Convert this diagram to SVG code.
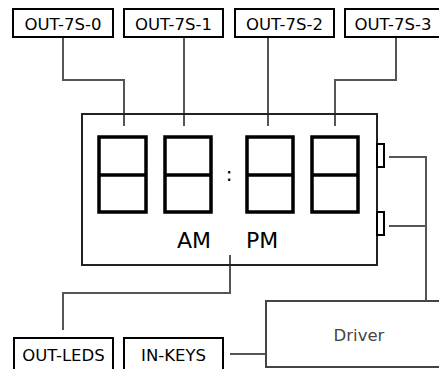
<svg xmlns="http://www.w3.org/2000/svg" width="439" height="369" viewBox="0 0 439 369">
<style>
.lbl{fill:#fff;stroke:#000;stroke-width:2}
.t{font-family:"DejaVu Sans",sans-serif;font-size:16.5px;fill:#000;text-anchor:middle}
.con{fill:none;stroke:#555;stroke-width:2}
.seg{fill:none;stroke:#000;stroke-width:3.5}
</style>
<rect width="439" height="369" fill="#fff"/>
<g id="connectors">
<path class="con" d="M63 38V80H124V126"/>
<path class="con" d="M184 38V126"/>
<path class="con" d="M268 38V126"/>
<path class="con" d="M396 38V80H335V126"/>
<path class="con" d="M230 255V293H63V330"/>
<path class="con" d="M389 157H426V301"/>
<path class="con" d="M389 226H426"/>
<path class="con" d="M230 354H266"/>
</g>
<g id="out7s0"><rect class="lbl" x="13" y="9" width="100" height="28"/><text class="t" x="63" y="30">OUT-7S-0</text></g>
<g id="out7s1"><rect class="lbl" x="124" y="9" width="99" height="28"/><text class="t" x="173.5" y="30">OUT-7S-1</text></g>
<g id="out7s2"><rect class="lbl" x="235" y="9" width="99" height="28"/><text class="t" x="284.5" y="30">OUT-7S-2</text></g>
<g id="out7s3"><rect class="lbl" x="345" y="9" width="99" height="28"/><text class="t" x="393" y="30">OUT-7S-3</text></g>
<g id="display">
<rect x="82" y="114" width="295" height="151" fill="none" stroke="#222" stroke-width="2"/>
<path class="seg" d="M99 137H146V212H99ZM99 175H146"/>
<path class="seg" d="M165 137H211V212H165ZM165 175H211"/>
<path class="seg" d="M247 137H293V212H247ZM247 175H293"/>
<path class="seg" d="M312 137H358V212H312ZM312 175H358"/>
<text x="229" y="181" font-family="DejaVu Sans,sans-serif" font-size="20" text-anchor="middle">:</text>
<text x="194" y="248" font-family="DejaVu Sans,sans-serif" font-size="22" text-anchor="middle">AM</text>
<text x="262" y="248" font-family="DejaVu Sans,sans-serif" font-size="22" text-anchor="middle">PM</text>
<rect x="377" y="144" width="7" height="23" fill="#fff" stroke="#000" stroke-width="2"/>
<rect x="377" y="212" width="7" height="23" fill="#fff" stroke="#000" stroke-width="2"/>
</g>
<g id="driver"><rect x="266" y="301" width="190" height="66" fill="#fff" stroke="#444" stroke-width="2"/><text x="359" y="341" font-family="DejaVu Sans,sans-serif" font-size="16.5" fill="#444" text-anchor="middle">Driver</text></g>
<g id="outleds"><rect class="lbl" x="14" y="338" width="99" height="40"/><text class="t" x="63.5" y="361">OUT-LEDS</text></g>
<g id="inkeys"><rect class="lbl" x="124" y="338" width="99" height="40"/><text class="t" x="173.5" y="361">IN-KEYS</text></g>
</svg>
